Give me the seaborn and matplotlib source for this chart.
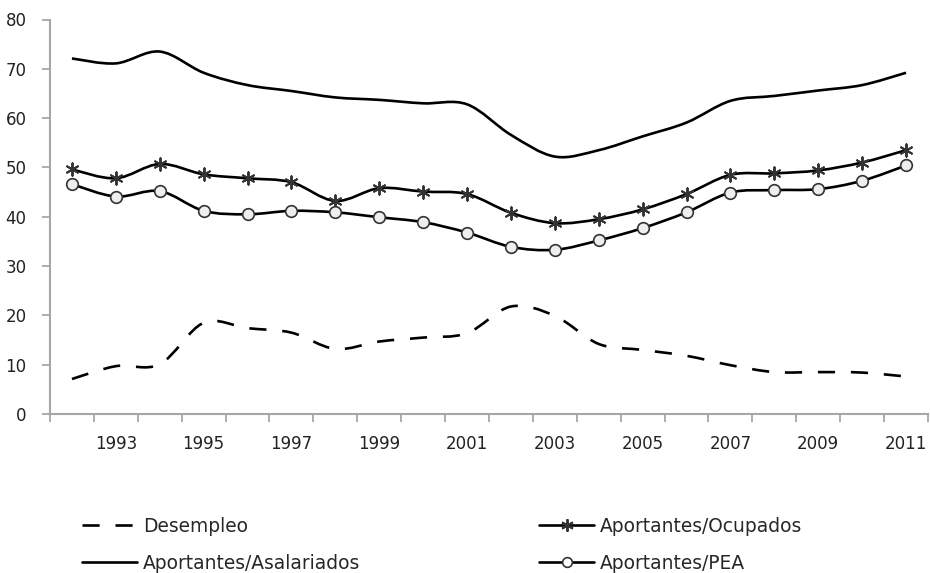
import matplotlib
matplotlib.use('Agg')
import matplotlib.pyplot as plt
from matplotlib.path import Path
from matplotlib.patches import PathPatch
from matplotlib.lines import Line2D
import seaborn as sns

# Datos
anios = list(range(1992, 2012))
desempleo = [7.1, 9.7, 10.1, 18.5, 17.4, 16.5, 13.2, 14.7, 15.5, 16.4,
             21.8, 19.9, 14.2, 13.0, 11.8, 9.9, 8.5, 8.5, 8.4, 7.6]
asalariados = [72.1, 71.1, 73.5, 69.2, 66.7, 65.5, 64.2, 63.7, 63.0, 62.8,
               56.6, 52.2, 53.5, 56.3, 59.1, 63.5, 64.5, 65.6, 66.7, 69.2]
ocupados = [49.6, 47.8, 50.7, 48.6, 47.8, 47.0, 43.2, 45.8, 45.1, 44.6,
            40.8, 38.7, 39.5, 41.5, 44.6, 48.5, 48.8, 49.4, 51.0, 53.5]
pea = [46.6, 44.1, 45.2, 41.2, 40.5, 41.2, 40.9, 39.9, 38.9, 36.8,
       33.9, 33.3, 35.2, 37.7, 40.9, 44.9, 45.4, 45.6, 47.3, 50.4]

etiquetas_x = [str(a) for a in range(1993, 2012, 2)]
etiquetas_y = list(range(0, 90, 10))

GRIS = '#a6a6a6'


def curva_suave(xs, ys):
    # linea suavizada tipo Excel: bezier cubica por tramos (Catmull-Rom)
    pts = list(zip(xs, ys))
    verts = [pts[0]]
    codes = [Path.MOVETO]
    n = len(pts)
    for i in range(n - 1):
        p0 = pts[max(i - 1, 0)]
        p1 = pts[i]
        p2 = pts[i + 1]
        p3 = pts[min(i + 2, n - 1)]
        c1 = (p1[0] + (p2[0] - p0[0]) / 6, p1[1] + (p2[1] - p0[1]) / 6)
        c2 = (p2[0] - (p3[0] - p1[0]) / 6, p2[1] - (p3[1] - p1[1]) / 6)
        verts += [c1, c2, p2]
        codes += [Path.CURVE4] * 3
    return Path(verts, codes)


sns.set_style('white')
plt.rcParams['font.family'] = ['DejaVu Sans']

fig = plt.figure(figsize=(9.3, 5.73), dpi=100)
ax = fig.add_axes([50 / 930, 159 / 573, 878 / 930, 394.5 / 573])

estilo_guion = (0, (6.5, 6))
series = [
    (desempleo, estilo_guion),
    (asalariados, '-'),
    (ocupados, '-'),
    (pea, '-'),
]
for valores, ls in series:
    ax.add_patch(PathPatch(curva_suave(anios, valores), facecolor='none',
                           edgecolor='black', lw=1.9, linestyle=ls,
                           capstyle='butt', zorder=2))

sns.scatterplot(x=anios, y=ocupados, marker=(6, 2, 0), s=80, color='#333333',
                linewidth=1.4, ax=ax, zorder=3)
sns.scatterplot(x=anios, y=pea, marker='o', s=70, color='#eeeeee',
                edgecolor='#333333', linewidth=1.2, ax=ax, zorder=3)

ax.set_xlim(1991.5, 2011.5)
ax.set_ylim(0, 80)
ax.set_yticks(etiquetas_y)
ax.set_xticks([int(e) for e in etiquetas_x])
ax.set_xticklabels(etiquetas_x)
ax.set_xticks([a - 0.5 for a in anios] + [2011.5], minor=True)

ax.tick_params(axis='x', which='major', length=0, pad=15, labelsize=12, labelcolor='#222222')
ax.tick_params(axis='x', which='minor', length=6, width=1.3, color=GRIS, direction='out', bottom=True)
ax.tick_params(axis='y', length=6, width=1.3, color=GRIS, direction='out', left=True,
               pad=11, labelsize=12, labelcolor='#222222')

for lado in ['top', 'right']:
    ax.spines[lado].set_visible(False)
for lado in ['left', 'bottom']:
    ax.spines[lado].set_color(GRIS)
    ax.spines[lado].set_linewidth(1.5)
ax.set_xlabel('')
ax.set_ylabel('')

manejadores = [
    Line2D([], [], color='black', lw=1.9, linestyle=estilo_guion),
    Line2D([], [], color='black', lw=1.9),
    Line2D([], [], color='black', lw=1.9, marker=(6, 2, 0), markersize=9,
           markeredgecolor='#333333', markeredgewidth=1.4),
    Line2D([], [], color='black', lw=1.9, marker='o', markersize=7,
           markerfacecolor='white', markeredgecolor='#333333', markeredgewidth=1.2),
]
nombres = ['Desempleo', 'Aportantes/Asalariados', 'Aportantes/Ocupados', 'Aportantes/PEA']
fig.legend(manejadores, nombres, ncol=2, loc='upper left',
           bbox_to_anchor=(82 / 930, 1 - 517 / 573), frameon=False,
           fontsize=13.4, handlelength=2.96, handletextpad=0.32,
           columnspacing=9.6, labelspacing=0.95, borderpad=0, borderaxespad=0)

plt.savefig('out.png', dpi=100)
